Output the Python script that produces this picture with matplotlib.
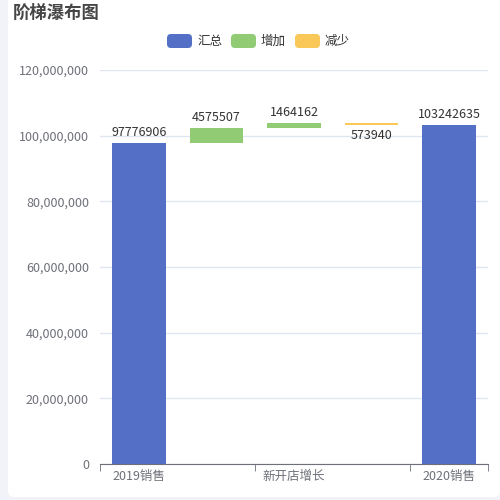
import matplotlib.pyplot as plt
import numpy as np
from matplotlib.patches import FancyBboxPatch
from matplotlib.ticker import FuncFormatter, MultipleLocator

plt.rcParams["font.family"] = ["Noto Sans CJK SC", "DejaVu Sans"]

# data
categories = ["2019销售", "", "新开店增长", "", "2020销售"]
kinds = ["total", "up", "up", "down", "total"]
values = [97776906, 4575507, 1464162, 573940, 103242635]

COLORS = {"total": "#5470c6", "up": "#91cc75", "down": "#fac858"}
LEGEND = [("汇总", "total"), ("增加", "up"), ("减少", "down")]
TEXT = "#6e7079"

# bar bottoms/heights for the waterfall
bottoms, heights = [], []
running = 0
for k, v in zip(kinds, values):
    if k == "total":
        bottoms.append(0)
        heights.append(v)
        running = v
    elif k == "up":
        bottoms.append(running)
        heights.append(v)
        running += v
    else:
        running -= v
        bottoms.append(running)
        heights.append(v)

fig = plt.figure(figsize=(5, 5), dpi=100)
fig.patch.set_facecolor("#f2f3f8")
fig.patches.append(FancyBboxPatch((8 / 500, 3 / 500), 492 / 500, 1.2,
                                  boxstyle="round,pad=0,rounding_size=0.012",
                                  transform=fig.transFigure, facecolor="white",
                                  edgecolor="none", zorder=-10))

ax = fig.add_axes([100 / 500, 1 - 464 / 500, 388 / 500, 394 / 500])
ax.set_facecolor("none")

x = np.arange(len(values))
for i, (b, h, k) in enumerate(zip(bottoms, heights, kinds)):
    ax.bar(x[i], h, bottom=b, width=0.69, color=COLORS[k], zorder=3)
    if k == "down":
        ax.text(x[i], b - 1.2e6, str(values[i]), ha="center", va="top",
                fontsize=9, color="#333333")
    else:
        ax.text(x[i], b + h + 1.2e6, str(values[i]), ha="center", va="bottom",
                fontsize=9, color="#333333")

ax.set_xlim(-0.5, len(values) - 0.5)
ax.set_ylim(0, 120e6)
ax.yaxis.set_major_locator(MultipleLocator(20e6))
ax.yaxis.set_major_formatter(FuncFormatter(lambda v, _: f"{int(v):,}"))
ax.grid(axis="y", color="#e0e6f1", lw=1, zorder=0)

for s in ["top", "right", "left"]:
    ax.spines[s].set_visible(False)
ax.spines["bottom"].set_color(TEXT)
ax.tick_params(axis="y", length=0, labelsize=9, labelcolor=TEXT, pad=8)

# category labels every other slot, ticks at boundaries like echarts
ax.set_xticks([0, 2, 4])
ax.set_xticklabels([categories[0], categories[2], categories[4]])
ax.tick_params(axis="x", length=0, labelsize=9, labelcolor=TEXT, pad=4)
ax.set_xticks([-0.5, 1.5, 3.5, 4.5], minor=True)
ax.tick_params(axis="x", which="minor", length=5, color=TEXT)

fig.text(13 / 500, 1 - 13 / 500, "阶梯瀑布图", fontsize=12.5, fontweight="bold",
         color="#464646", ha="left", va="center")

# legend
lx = 167
for label, k in LEGEND:
    fig.patches.append(FancyBboxPatch((lx / 500, 1 - 48 / 500), 25 / 500, 14 / 500,
                                      boxstyle="round,pad=0,rounding_size=0.008",
                                      transform=fig.transFigure, facecolor=COLORS[k],
                                      edgecolor="none"))
    fig.text((lx + 30) / 500, 1 - 41 / 500, label, fontsize=9, color="#333333",
             ha="left", va="center")
    lx += 64

fig.savefig("out.png", dpi=100, facecolor=fig.get_facecolor())
